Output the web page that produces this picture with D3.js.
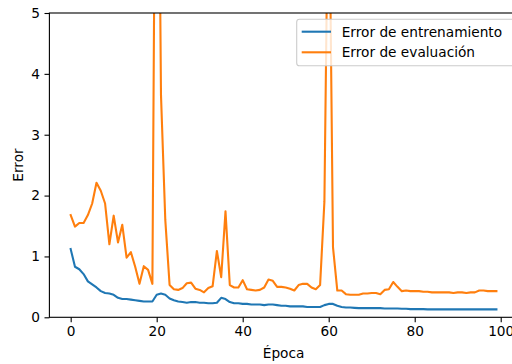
<!DOCTYPE html>
<html>
<head>
<meta charset="utf-8">
<script src="https://cdn.jsdelivr.net/npm/d3@7"></script>
<style>
body { margin: 0; background: #fff; }
text { font-family: "DejaVu Sans", sans-serif; }
</style>
</head>
<body>
<div id="chart-area"></div>
<script>
// valores
var epochs = d3.range(100);
var trainErr = [1.12, 0.83, 0.79, 0.71, 0.59, 0.54, 0.49, 0.43, 0.40, 0.39,
	0.37, 0.32, 0.30, 0.30, 0.29, 0.28, 0.27, 0.26, 0.26, 0.26,
	0.37, 0.39, 0.37, 0.31, 0.28, 0.26, 0.25, 0.24, 0.25, 0.25,
	0.24, 0.24, 0.23, 0.23, 0.24, 0.32, 0.30, 0.25, 0.23, 0.23,
	0.22, 0.22, 0.21, 0.21, 0.21, 0.20, 0.21, 0.21, 0.20, 0.19,
	0.19, 0.18, 0.18, 0.18, 0.18, 0.17, 0.17, 0.17, 0.17, 0.20,
	0.22, 0.22, 0.19, 0.17, 0.16, 0.16, 0.155, 0.15, 0.15, 0.15,
	0.15, 0.15, 0.15, 0.145, 0.145, 0.145, 0.145, 0.14, 0.14, 0.135,
	0.135, 0.135, 0.135, 0.13, 0.13, 0.13, 0.13, 0.13, 0.13, 0.13,
	0.13, 0.13, 0.13, 0.13, 0.13, 0.13, 0.13, 0.13, 0.13, 0.13];
var valErr = [1.68, 1.49, 1.55, 1.55, 1.68, 1.87, 2.21, 2.08, 1.87, 1.20,
	1.67, 1.23, 1.52, 0.98, 1.07, 0.83, 0.55, 0.84, 0.78, 0.55,
	12.0, 3.65, 1.60, 0.53, 0.46, 0.45, 0.48, 0.56, 0.57, 0.47,
	0.45, 0.41, 0.48, 0.51, 1.09, 0.66, 1.74, 0.53, 0.49, 0.49,
	0.61, 0.46, 0.45, 0.44, 0.45, 0.49, 0.62, 0.60, 0.50, 0.50,
	0.49, 0.47, 0.44, 0.53, 0.55, 0.55, 0.49, 0.46, 0.53, 1.90,
	8.0, 1.15, 0.44, 0.44, 0.38, 0.37, 0.37, 0.37, 0.39, 0.39,
	0.40, 0.40, 0.38, 0.45, 0.46, 0.58, 0.50, 0.43, 0.44, 0.43,
	0.43, 0.43, 0.42, 0.42, 0.41, 0.41, 0.41, 0.41, 0.41, 0.40,
	0.41, 0.41, 0.40, 0.41, 0.41, 0.44, 0.44, 0.43, 0.43, 0.43];
var xTicks = [0, 20, 40, 60, 80, 100];
var yTicks = [0, 1, 2, 3, 4, 5];
var seriesNames = ["Error de entrenamiento", "Error de evaluación"];
var colors = ["#1f77b4", "#ff7f0e"];

var width = 512, height = 364;
var mLeft = 49.4, mRight = 517.7, mTop = 13, mBottom = 317.3;

var svg = d3.select("#chart-area").append("svg")
		.attr("width", width)
		.attr("height", height);

var x = d3.scaleLinear().domain([-4.95, 103.95]).range([mLeft, mRight]);
var y = d3.scaleLinear().domain([0, 5]).range([mBottom, mTop]);

svg.append("clipPath").attr("id", "clip")
	.append("rect")
		.attr("x", mLeft).attr("y", mTop)
		.attr("width", mRight - mLeft).attr("height", mBottom - mTop);

var line = d3.line()
	.x((d, i) => x(epochs[i]))
	.y((d) => y(d));

[trainErr, valErr].forEach((s, k) => {
	svg.append("path")
		.attr("d", line(s))
		.attr("clip-path", "url(#clip)")
		.attr("fill", "none")
		.attr("stroke", colors[k])
		.attr("stroke-width", 2.1)
		.attr("stroke-linejoin", "round")
		.attr("stroke-linecap", "square");
});

// ejes
var xAxis = svg.append("g")
	.attr("transform", "translate(0," + mBottom + ")")
	.call(d3.axisBottom(x).tickValues(xTicks).tickSize(4.9).tickPadding(4.5).tickFormat(d3.format("d")));
var yAxis = svg.append("g")
	.attr("transform", "translate(" + mLeft + ",0)")
	.call(d3.axisLeft(y).tickValues(yTicks).tickSize(4.9).tickPadding(4.5).tickFormat(d3.format("d")));
[xAxis, yAxis].forEach((g) => {
	g.select(".domain").remove();
	g.selectAll("line").attr("stroke", "#000").attr("stroke-width", 1.1);
	g.selectAll("text").attr("font-size", 13.7).attr("fill", "#000")
		.attr("font-family", "DejaVu Sans");
});

svg.append("rect")
	.attr("x", mLeft).attr("y", mTop)
	.attr("width", mRight - mLeft).attr("height", mBottom - mTop)
	.attr("fill", "none")
	.attr("stroke", "#000")
	.attr("stroke-width", 1.1);

svg.append("text")
	.attr("x", (mLeft + mRight) / 2)
	.attr("y", 358)
	.attr("text-anchor", "middle")
	.attr("font-size", 13.7)
	.text("Época");
svg.append("text")
	.attr("transform", "translate(23,165) rotate(-90)")
	.attr("text-anchor", "middle")
	.attr("font-size", 13.7)
	.text("Error");

// leyenda
var legend = svg.append("g");
legend.append("rect")
	.attr("x", 296.7).attr("y", 19.3)
	.attr("width", 230).attr("height", 46.4)
	.attr("rx", 2.8)
	.attr("fill", "#fff")
	.attr("fill-opacity", 0.8)
	.attr("stroke", "#cccccc")
	.attr("stroke-width", 1.1);
seriesNames.forEach((n, k) => {
	var yy = 31.7 + k * 20.6;
	legend.append("line")
		.attr("x1", 301.7).attr("x2", 331)
		.attr("y1", yy).attr("y2", yy)
		.attr("stroke", colors[k])
		.attr("stroke-width", 2.1);
	legend.append("text")
		.attr("x", 341.7).attr("y", yy + 5)
		.attr("font-size", 13.7)
		.text(n);
});
</script>
</body>
</html>
